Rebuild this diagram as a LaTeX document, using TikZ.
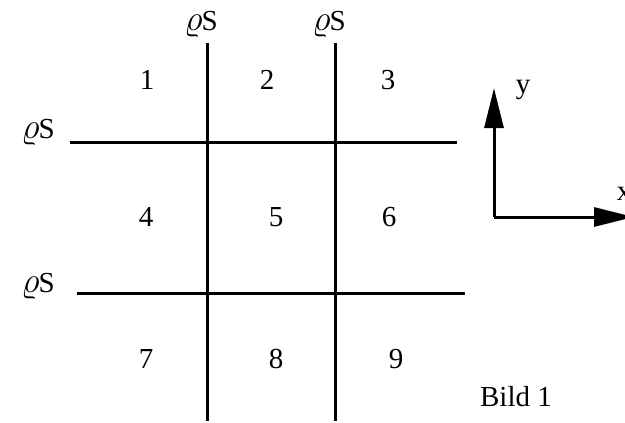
\documentclass[tikz,border=0pt]{standalone}
\usepackage{fix-cm}
\usepackage{fontspec}
\setmainfont{Liberation Serif}
\usetikzlibrary{arrows.meta}
\newcommand{\rhoS}{{\fontsize{36}{38}\selectfont$\varrho$}\kern-1pt S}
\begin{document}
\begin{tikzpicture}[x=1pt,y=-1pt,
  grid/.style={line width=3pt},
  axis/.style={line width=3pt,-{Triangle[length=40pt,width=19pt]}},
  lbl/.style={inner sep=0pt,font=\fontsize{29}{33}\selectfont}]
\useasboundingbox (0,0) rectangle (625,423);
\coordinate (v1t) at (207,43); \coordinate (v1b) at (207,421);
\coordinate (v2t) at (335,43); \coordinate (v2b) at (335,421);
\coordinate (h1l) at (70,142); \coordinate (h1r) at (457,142);
\coordinate (h2l) at (77,293); \coordinate (h2r) at (465,293);
\draw[grid] (v1t) -- (v1b);
\draw[grid] (v2t) -- (v2b);
\draw[grid] (h1l) -- (h1r);
\draw[grid] (h2l) -- (h2r);
\node[lbl] (r1) at (201,24) {\rhoS};
\node[lbl] (r2) at (329,24) {\rhoS};
\node[lbl] (r3) at (38,132) {\rhoS};
\node[lbl] (r4) at (38,286) {\rhoS};
\node[lbl] (n1) at (147,80) {1};
\node[lbl] (n2) at (267,80) {2};
\node[lbl] (n3) at (388,80) {3};
\node[lbl] (n4) at (146,217) {4};
\node[lbl] (n5) at (276,217) {5};
\node[lbl] (n6) at (389,217) {6};
\node[lbl] (n7) at (146,359) {7};
\node[lbl] (n8) at (276,359) {8};
\node[lbl] (n9) at (396,359) {9};
\coordinate (o) at (494,217);
\coordinate (ye) at (494,88);
\coordinate (xe) at (634,217);
\draw[axis] (o) -- (ye);
\draw[axis] (o) -- (xe);
\node[lbl] (ly) at (523,90) {y};
\node[lbl] (lx) at (624,194) {x};
\node[lbl] (bild) at (516,397) {Bild 1};
\end{tikzpicture}
\end{document}
